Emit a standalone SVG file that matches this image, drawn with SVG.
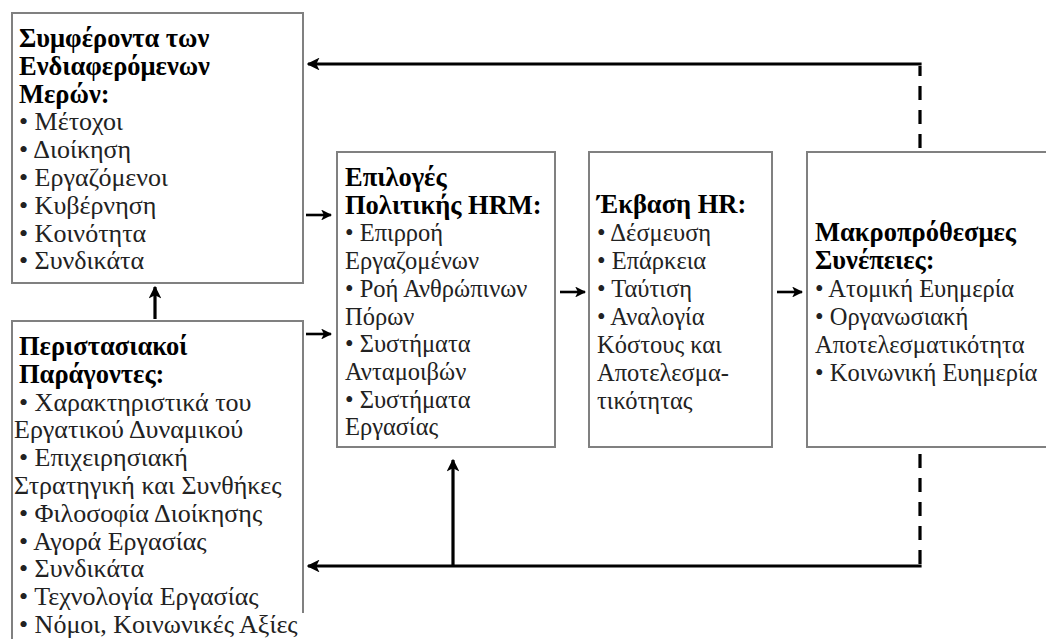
<svg xmlns="http://www.w3.org/2000/svg" width="1046" height="639" viewBox="0 0 1046 639">
  <defs>
    <marker id="head" viewBox="0 0 10 10" refX="9" refY="5" markerWidth="4" markerHeight="4" orient="auto" markerUnits="strokeWidth">
      <path d="M0,0 L10,5 L0,10 L2.5,5 Z" fill="#000"/>
    </marker>
    <marker id="headSmall" viewBox="0 0 10 10" refX="9" refY="5" markerWidth="4.2" markerHeight="4.2" orient="auto" markerUnits="strokeWidth">
      <path d="M0,0 L10,5 L0,10 L2.5,5 Z" fill="#000"/>
    </marker>
    <style>
      .box { fill: #fff; stroke: #808080; stroke-width: 2; }
      .edge { fill: none; stroke: #808080; stroke-width: 2; }
      text { font-family: "Liberation Serif", "DejaVu Serif", serif; font-size: 24.5px; fill: #222; }
      .wide text { font-size: 26px; }
      text.h, .wide text.h { font-weight: bold; font-size: 26.5px; fill: #000; }
      .line { fill: none; stroke: #000; stroke-width: 3.2; }
      .short { fill: none; stroke: #000; stroke-width: 2.6; }
      .dash { fill: none; stroke: #000; stroke-width: 3.2; stroke-dasharray: 14 10; }
    </style>
  </defs>
  <rect width="1046" height="639" fill="#fff"/>

  <!-- Stakeholder interests -->
  <g id="stakeholders" class="wide">
    <rect class="box" x="12" y="13" width="291" height="270"/>
    <text class="h" x="19" y="47">Συμφέροντα των</text>
    <text class="h" x="19" y="74.8">Ενδιαφερόμενων</text>
    <text class="h" x="19" y="102.6">Μερών:</text>
    <text x="19" y="130.4">• Μέτοχοι</text>
    <text x="19" y="158.2">• Διοίκηση</text>
    <text x="19" y="186">• Εργαζόμενοι</text>
    <text x="19" y="213.8">• Κυβέρνηση</text>
    <text x="19" y="241.6">• Κοινότητα</text>
    <text x="19" y="269.4">• Συνδικάτα</text>
  </g>

  <!-- Situational factors -->
  <g id="situational" class="wide">
    <path class="edge" d="M12,645 V321 H303 V613"/>
    <text class="h" x="19" y="355">Περιστασιακοί</text>
    <text class="h" x="19" y="382.8">Παράγοντες:</text>
    <text x="19" y="410.6">• Χαρακτηριστικά του</text>
    <text x="14" y="438.4">Εργατικού Δυναμικού</text>
    <text x="19" y="466.2">• Επιχειρησιακή</text>
    <text x="14" y="494">Στρατηγική και Συνθήκες</text>
    <text x="19" y="521.8">• Φιλοσοφία Διοίκησης</text>
    <text x="19" y="549.6">• Αγορά Εργασίας</text>
    <text x="19" y="577.4">• Συνδικάτα</text>
    <text x="19" y="605.2">• Τεχνολογία Εργασίας</text>
    <text x="19" y="633">• Νόμοι, Κοινωνικές Αξίες</text>
  </g>

  <!-- HRM policy choices -->
  <g id="policy">
    <rect class="box" x="337" y="152" width="218" height="295"/>
    <text class="h" x="345" y="186">Επιλογές</text>
    <text class="h" x="345" y="213.7">Πολιτικής HRM:</text>
    <text x="345" y="241.4">• Επιρροή</text>
    <text x="345" y="269.1">Εργαζομένων</text>
    <text x="345" y="296.8">• Ροή Ανθρώπινων</text>
    <text x="345" y="324.5">Πόρων</text>
    <text x="345" y="352.2">• Συστήματα</text>
    <text x="345" y="379.9">Ανταμοιβών</text>
    <text x="345" y="407.6">• Συστήματα</text>
    <text x="345" y="435.3">Εργασίας</text>
  </g>

  <!-- HR outcomes -->
  <g id="outcomes">
    <rect class="box" x="589" y="152" width="183" height="295"/>
    <text class="h" x="597" y="213">Έκβαση HR:</text>
    <text x="597" y="241">• Δέσμευση</text>
    <text x="597" y="269">• Επάρκεια</text>
    <text x="597" y="297">• Ταύτιση</text>
    <text x="597" y="325">• Αναλογία</text>
    <text x="597" y="353">Κόστους και</text>
    <text x="597" y="381">Αποτελεσμα-</text>
    <text x="597" y="409">τικότητας</text>
  </g>

  <!-- Long-term consequences -->
  <g id="consequences">
    <rect class="box" x="807" y="152" width="260" height="295"/>
    <text class="h" x="815" y="241">Μακροπρόθεσμες</text>
    <text class="h" x="815" y="269">Συνέπειες:</text>
    <text x="815" y="297">• Ατομική Ευημερία</text>
    <text x="815" y="325">• Οργανωσιακή</text>
    <text x="815" y="353">Αποτελεσματικότητα</text>
    <text x="815" y="381">• Κοινωνική Ευημερία</text>
  </g>

  <!-- Connectors -->
  <g id="connectors">
    <!-- feedback to stakeholder interests -->
    <path class="dash" d="M920,148 V66"/>
    <path class="line" d="M921.6,64 H308" marker-end="url(#head)"/>
    <!-- feedback to situational factors and policy choices -->
    <path class="dash" d="M920,454 V564"/>
    <path class="line" d="M921.6,566 H308" marker-end="url(#head)"/>
    <path class="line" d="M453,566 V460" marker-end="url(#head)"/>
    <!-- situational factors to stakeholder interests -->
    <path class="line" d="M155,319 V287" marker-end="url(#head)"/>
    <!-- into policy choices -->
    <path class="short" d="M306,215 H331" marker-end="url(#headSmall)"/>
    <path class="short" d="M306,334 H331" marker-end="url(#headSmall)"/>
    <!-- policy choices to outcomes to consequences -->
    <path class="short" d="M560,292 H585" marker-end="url(#headSmall)"/>
    <path class="short" d="M777,292 H802" marker-end="url(#headSmall)"/>
  </g>
</svg>
